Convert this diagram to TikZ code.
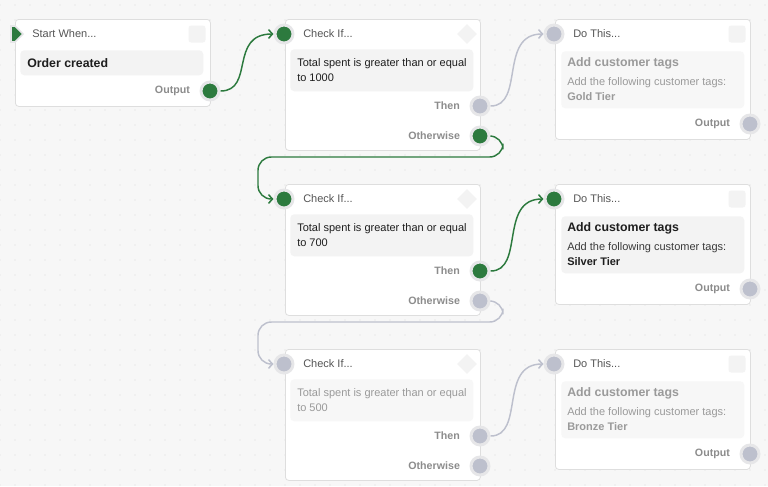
\documentclass[tikz,border=0pt]{standalone}
\usepackage{fontspec}
\setmainfont{Liberation Sans}
\usetikzlibrary{positioning, arrows.meta, shapes.geometric, shapes.symbols, calc, backgrounds}
\definecolor{flowgreen}{HTML}{2C7A3E}
\definecolor{flowgray}{HTML}{BDC0CD}
\definecolor{halo}{HTML}{E6E6E8}
\definecolor{cardline}{HTML}{DEDEDE}
\definecolor{bodyfill}{HTML}{F3F3F3}
\definecolor{bodyoff}{HTML}{F7F7F7}
\definecolor{canvas}{HTML}{F7F7F7}
\definecolor{griddot}{HTML}{DCDCDC}
\definecolor{headtext}{HTML}{555555}
\definecolor{maintext}{HTML}{1E1E1E}
\definecolor{subtext}{HTML}{3A3A3A}
\definecolor{offtext}{HTML}{9A9A9A}
\definecolor{lbltext}{HTML}{8C8C8C}

\begin{document}
\begin{tikzpicture}[
    x=0.75pt, y=-0.75pt,
    >={Straight Barb[length=3pt,width=6.5pt]},
    font=\fontsize{8.25pt}{11.25pt}\selectfont,
    card/.style={
        draw=cardline, fill=white, line width=0.6pt, rounded corners=2.5pt,
        anchor=north west, minimum width=146.25pt, inner sep=0pt,
    },
    body/.style={
        fill=bodyfill, rounded corners=3pt, anchor=north west,
        minimum width=137.25pt, inner sep=0pt,
    },
    head/.style={anchor=west, inner sep=0pt, text=headtext},
    headbox/.style={fill=bodyfill, rounded corners=2pt, minimum size=12.75pt, inner sep=0pt},
    headdiamond/.style={diamond, fill=bodyfill, minimum size=15pt, inner sep=0pt},
    title/.style={anchor=west, inner sep=0pt, font=\fontsize{9.25pt}{11pt}\selectfont\bfseries, text=maintext},
    bodytext/.style={anchor=west, inner sep=0pt, align=left, text=maintext},
    port/.style={circle, draw=halo, line width=2.2pt, minimum size=13.5pt, inner sep=0pt},
    on/.style={fill=flowgreen},
    off/.style={fill=flowgray},
    portlbl/.style={inner sep=0pt, font=\fontsize{8pt}{10pt}\selectfont\bfseries, text=lbltext},
    wireon/.style={->, draw=flowgreen, line width=1.1pt},
    wireoff/.style={->, draw=flowgray, line width=1.1pt},
]

\useasboundingbox (0,0) rectangle (768,486);

% ===== Canvas with dot grid =====
\begin{pgfonlayer}{background}
    \fill[canvas] (0,0) rectangle (768,486);
    \foreach \x in {0,15,...,765}
        \foreach \y in {5,20,...,485}
            \fill[griddot] (\x,\y) circle (0.55pt);
\end{pgfonlayer}

% ===== Start When... =====
\node[card, minimum height=65.25pt] (start) at (15,19) {};
\node[head] (start-head) at (32,34) {Start When...};
\node[headbox] (start-box) at (197,34) {};
\node[body, minimum height=18.75pt] (start-body) at (20,50) {};
\node[title] (start-title) at (27,63) {Order created};
\node[signal, signal to=east, fill=flowgreen, draw=halo, line width=1.2pt,
      minimum width=9pt, minimum height=12pt, inner sep=0pt] (start-in) at (13,34) {};
\node[port, on] (start-out) at (210,91) {};
\node[portlbl, left=7pt of start-out] (start-outlbl) {Output};

% ===== Row 1: Check If... 1000 / Do This... Gold =====
\node[card, minimum height=98.25pt] (checkA) at (285,19) {};
\node[head] (checkA-head) at (303,34) {Check If...};
\node[headdiamond] (checkA-mark) at (467,34) {};
\node[body, minimum height=31.5pt] (checkA-body) at (290,49) {};
\node[bodytext] (checkA-text) at (297,70.5) {Total spent is greater than or equal\\to 1000};
\node[port, on] (checkA-in) at (284,34) {};
\node[port, off] (checkA-then) at (480,106) {};
\node[port, on] (checkA-else) at (480,136) {};
\node[portlbl, left=7pt of checkA-then] (checkA-thenlbl) {Then};
\node[portlbl, left=7pt of checkA-else] (checkA-elselbl) {Otherwise};

\node[card, minimum height=90pt] (doA) at (555,19) {};
\node[head] (doA-head) at (573,34) {Do This...};
\node[headbox] (doA-box) at (737,34) {};
\node[body, fill=bodyoff, minimum height=42.75pt] (doA-body) at (561,51) {};
\node[title, text=offtext] (doA-title) at (567,63) {Add customer tags};
\node[bodytext, text=offtext] (doA-text) at (567,89.5) {Add the following customer tags:\\\textbf{Gold Tier}};
\node[port, off] (doA-in) at (554,34) {};
\node[port, off] (doA-out) at (750,124) {};
\node[portlbl, left=7pt of doA-out] (doA-outlbl) {Output};

% ===== Row 2: Check If... 700 / Do This... Silver =====
\node[card, minimum height=98.25pt] (checkB) at (285,184) {};
\node[head] (checkB-head) at (303,199) {Check If...};
\node[headdiamond] (checkB-mark) at (467,199) {};
\node[body, minimum height=31.5pt] (checkB-body) at (290,214) {};
\node[bodytext] (checkB-text) at (297,235.5) {Total spent is greater than or equal\\to 700};
\node[port, on] (checkB-in) at (284,199) {};
\node[port, on] (checkB-then) at (480,271) {};
\node[port, off] (checkB-else) at (480,301) {};
\node[portlbl, left=7pt of checkB-then] (checkB-thenlbl) {Then};
\node[portlbl, left=7pt of checkB-else] (checkB-elselbl) {Otherwise};

\node[card, minimum height=90pt] (doB) at (555,184) {};
\node[head] (doB-head) at (573,199) {Do This...};
\node[headbox] (doB-box) at (737,199) {};
\node[body, minimum height=42.75pt] (doB-body) at (561,216) {};
\node[title] (doB-title) at (567,228) {Add customer tags};
\node[bodytext, text=subtext] (doB-text) at (567,254.5) {Add the following customer tags:\\\textbf{\color{maintext}Silver Tier}};
\node[port, on] (doB-in) at (554,199) {};
\node[port, off] (doB-out) at (750,289) {};
\node[portlbl, left=7pt of doB-out] (doB-outlbl) {Output};

% ===== Row 3: Check If... 500 / Do This... Bronze =====
\node[card, minimum height=98.25pt] (checkC) at (285,349) {};
\node[head] (checkC-head) at (303,364) {Check If...};
\node[headdiamond] (checkC-mark) at (467,364) {};
\node[body, fill=bodyoff, minimum height=31.5pt] (checkC-body) at (290,379) {};
\node[bodytext, text=offtext] (checkC-text) at (297,400.5) {Total spent is greater than or equal\\to 500};
\node[port, off] (checkC-in) at (284,364) {};
\node[port, off] (checkC-then) at (480,436) {};
\node[port, off] (checkC-else) at (480,466) {};
\node[portlbl, left=7pt of checkC-then] (checkC-thenlbl) {Then};
\node[portlbl, left=7pt of checkC-else] (checkC-elselbl) {Otherwise};

\node[card, minimum height=90pt] (doC) at (555,349) {};
\node[head] (doC-head) at (573,364) {Do This...};
\node[headbox] (doC-box) at (737,364) {};
\node[body, fill=bodyoff, minimum height=42.75pt] (doC-body) at (561,381) {};
\node[title, text=offtext] (doC-title) at (567,393) {Add customer tags};
\node[bodytext, text=offtext] (doC-text) at (567,419.5) {Add the following customer tags:\\\textbf{Bronze Tier}};
\node[port, off] (doC-in) at (554,364) {};
\node[port, off] (doC-out) at (750,454) {};
\node[portlbl, left=7pt of doC-out] (doC-outlbl) {Output};

% ===== Connectors =====
\begin{pgfonlayer}{background}
    % Start -> Check 1000
    \draw[wireon] (start-out) .. controls +(45,0) and +(-45,0) .. (checkA-in.west);
    % Then -> Do This (Gold)
    \draw[wireoff] (checkA-then) .. controls +(45,0) and +(-45,0) .. (doA-in.west);
    % Otherwise -> Check 700 (loops back under the card)
    \draw[wireon, rounded corners=10pt] (checkA-else) -| ++(23,21)
        -| ($(checkB-in)+(-26,0)$) -- (checkB-in.west);
    % Then -> Do This (Silver)
    \draw[wireon] (checkB-then) .. controls +(45,0) and +(-45,0) .. (doB-in.west);
    % Otherwise -> Check 500
    \draw[wireoff, rounded corners=10pt] (checkB-else) -| ++(23,21)
        -| ($(checkC-in)+(-26,0)$) -- (checkC-in.west);
    % Then -> Do This (Bronze)
    \draw[wireoff] (checkC-then) .. controls +(45,0) and +(-45,0) .. (doC-in.west);
\end{pgfonlayer}

\end{tikzpicture}
\end{document}
